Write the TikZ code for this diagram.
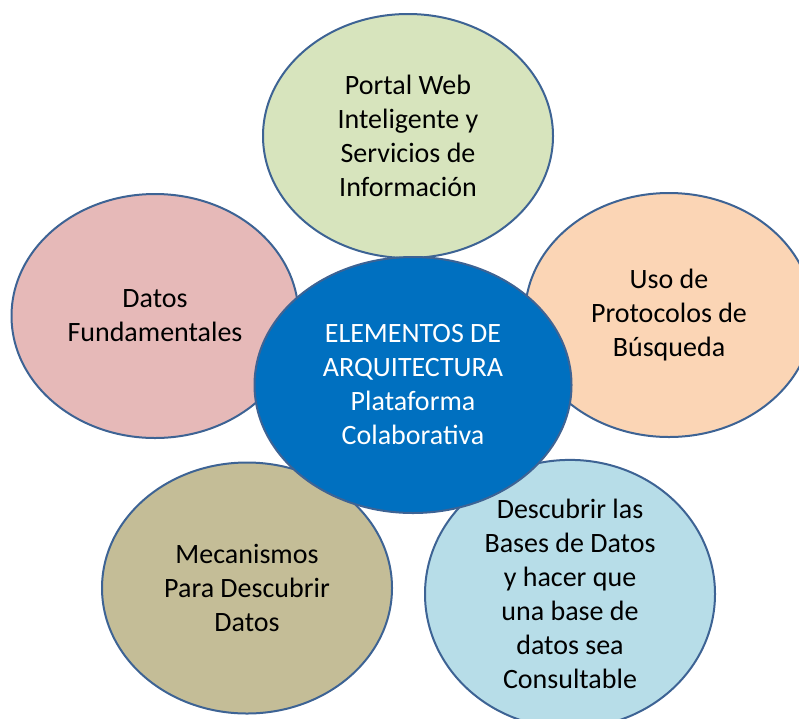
\documentclass[tikz,border=0pt]{standalone}
\usepackage{fontspec}
\setmainfont{Carlito}
\usepackage{tikz}
\usetikzlibrary{shapes.geometric,positioning}
\definecolor{verde}{HTML}{D7E4BD}
\definecolor{rosa}{HTML}{E6B9B8}
\definecolor{durazno}{HTML}{FBD5B5}
\definecolor{cafe}{HTML}{C4BD97}
\definecolor{celeste}{HTML}{B7DDE8}
\definecolor{azul}{HTML}{0070C0}
\definecolor{borde}{HTML}{3D6394}

\begin{document}
\begin{tikzpicture}[x=1pt,y=-1pt,
		blob/.style={ellipse,draw=borde,line width=2pt,inner sep=0pt,
			align=center,font=\fontsize{28}{34}\selectfont,text=black},
		hub/.style={blob,fill=azul,text=white}]
		
		\useasboundingbox (0,0) rectangle (799,718);
		\begin{scope}
		\clip (0,0) rectangle (799,718);
		
		\node[blob,fill=verde,minimum width=290pt,minimum height=244pt] (portal) at (408,136)
			{Portal Web\\Inteligente y\\Servicios de\\Información};
		\node[blob,fill=rosa,minimum width=287pt,minimum height=244pt] (datos) at (155,316)
			{Datos\\Fundamentales};
		\node[blob,fill=durazno,minimum width=288pt,minimum height=244pt] (uso) at (669,315)
			{Uso de\\Protocolos de\\Búsqueda};
		\node[blob,fill=cafe,minimum width=290pt,minimum height=251pt] (meca) at (247,588)
			{Mecanismos\\Para Descubrir\\Datos};
		\node[blob,fill=celeste,minimum width=290pt,minimum height=252pt] (bases) at (570,594)
			{Descubrir las\\Bases de Datos\\y hacer que\\una base de\\datos sea\\Consultable};
		
		\node[hub,minimum width=317pt,minimum height=256pt] (centro) at (413,385)
			{ELEMENTOS DE\\ARQUITECTURA\\Plataforma\\Colaborativa};
		
		\end{scope}
	\end{tikzpicture}
\end{document}
